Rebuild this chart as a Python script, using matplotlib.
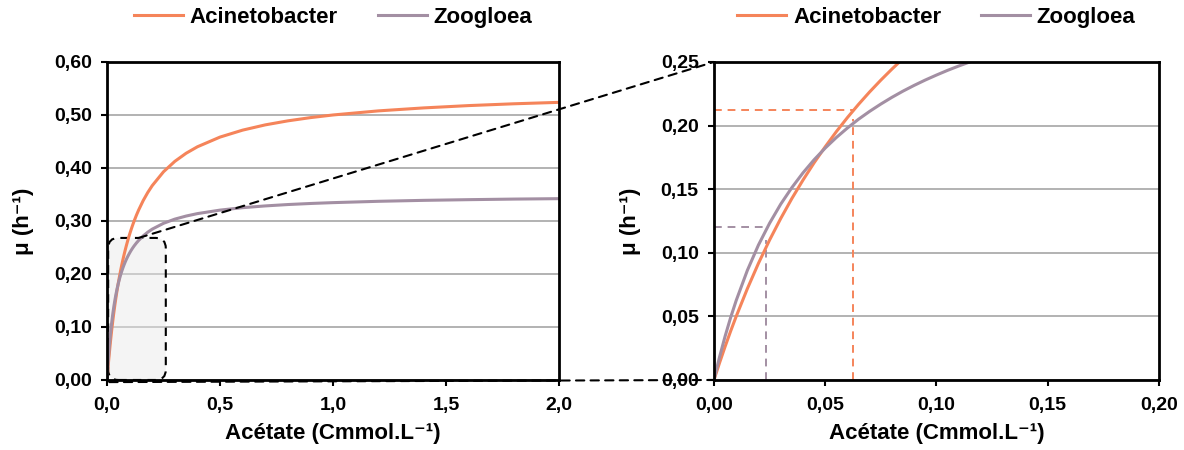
import matplotlib
matplotlib.use('Agg')
import matplotlib.pyplot as plt
from matplotlib.patches import FancyBboxPatch, ConnectionPatch

plt.rcParams['font.family'] = ['Liberation Sans', 'DejaVu Sans']
plt.rcParams['font.weight'] = 'bold'
plt.rcParams['axes.labelweight'] = 'bold'

# values (acetate in Cmmol/L, mu in 1/h)
acetate = [0, 0.0025, 0.005, 0.0075, 0.01, 0.015, 0.02, 0.025, 0.03, 0.035,
           0.04, 0.045, 0.05, 0.055, 0.06, 0.065, 0.07, 0.075, 0.08, 0.085,
           0.09, 0.095, 0.10, 0.105, 0.11, 0.115, 0.12, 0.13, 0.14, 0.16,
           0.18, 0.20, 0.25, 0.30, 0.35, 0.40, 0.50, 0.60, 0.70, 0.80,
           0.90, 1.0, 1.2, 1.4, 1.6, 1.8, 2.0]
mu_acinetobacter = [0, 0.0134, 0.0262, 0.0384, 0.0500, 0.0717, 0.0917, 0.1100, 0.1269, 0.1426,
                    0.1571, 0.1707, 0.1833, 0.1952, 0.2063, 0.2167, 0.2265, 0.2357, 0.2444, 0.2527,
                    0.2605, 0.2680, 0.2750, 0.2817, 0.2881, 0.2942, 0.3000, 0.3109, 0.3208, 0.3385,
                    0.3536, 0.3667, 0.3929, 0.4125, 0.4278, 0.4400, 0.4583, 0.4714, 0.4813, 0.4889,
                    0.4950, 0.5000, 0.5077, 0.5133, 0.5177, 0.5211, 0.5238]
mu_zoogloea = [0, 0.0180, 0.0343, 0.0491, 0.0625, 0.0861, 0.1061, 0.1232, 0.1382, 0.1512,
               0.1628, 0.1731, 0.1823, 0.1906, 0.1981, 0.2050, 0.2112, 0.2169, 0.2222, 0.2271,
               0.2316, 0.2358, 0.2397, 0.2434, 0.2468, 0.2500, 0.2530, 0.2585, 0.2634, 0.2718,
               0.2788, 0.2846, 0.2956, 0.3035, 0.3093, 0.3139, 0.3205, 0.3251, 0.3284, 0.3310,
               0.3330, 0.3346, 0.3371, 0.3389, 0.3402, 0.3413, 0.3421]

# reference marks in the zoomed panel
acin_ref_s, acin_ref_h, acin_ref_v = 0.0624, 0.212, 0.205
zoog_ref_s, zoog_ref_h, zoog_ref_v = 0.0234, 0.120, 0.110

# zoom window drawn on the left panel
box_s = (0.005, 0.26)
box_mu = (0.0, 0.268)

full_xticks = [0, 0.5, 1.0, 1.5, 2.0]
full_xlabels = ['0,0', '0,5', '1,0', '1,5', '2,0']
full_yticks = [0, 0.1, 0.2, 0.3, 0.4, 0.5, 0.6]
full_ylabels = ['0,00', '0,10', '0,20', '0,30', '0,40', '0,50', '0,60']
zoom_xticks = [0, 0.05, 0.10, 0.15, 0.20]
zoom_xlabels = ['0,00', '0,05', '0,10', '0,15', '0,20']
zoom_yticks = [0, 0.05, 0.10, 0.15, 0.20, 0.25]
zoom_ylabels = ['0,00', '0,05', '0,10', '0,15', '0,20', '0,25']

orange = '#F5845A'
purple = '#A38FA3'

fig = plt.figure(figsize=(11.84, 4.5), dpi=100)
ax1 = fig.add_axes([0.0904, 0.1556, 0.3818, 0.7067])
ax2 = fig.add_axes([0.603, 0.1556, 0.3758, 0.7067])


def style(ax, xt, xl, yt, yl):
    ax.set_xticks(xt)
    ax.set_xticklabels(xl)
    ax.set_yticks(yt)
    ax.set_yticklabels(yl)
    ax.set_xlim(xt[0], xt[-1])
    ax.set_ylim(yt[0], yt[-1])
    ax.grid(axis='y', color='#A6A6A6', lw=1.2, zorder=0)
    ax.set_axisbelow(True)
    for s in ax.spines.values():
        s.set_linewidth(2.0)
        s.set_color('black')
        s.set_zorder(5)
    ax.tick_params(direction='out', length=4, width=1.5, labelsize=14)
    ax.tick_params(axis='x', pad=8)
    ax.tick_params(axis='y', pad=7)
    ax.set_xlabel('Acétate (Cmmol.L⁻¹)', fontsize=16, labelpad=7)
    ax.set_ylabel('μ (h⁻¹)', fontsize=16, labelpad=14)


for ax in (ax1, ax2):
    ax.plot(acetate, mu_acinetobacter, color=orange, lw=2.2, label='Acinetobacter', zorder=3)
    ax.plot(acetate, mu_zoogloea, color=purple, lw=2.2, label='Zoogloea', zorder=3)
    ax.legend(loc='center', bbox_to_anchor=(0.5, 1.14), ncol=2, frameon=False,
              fontsize=16, handlelength=2.2, handletextpad=0.3, columnspacing=1.8)

style(ax1, full_xticks, full_xlabels, full_yticks, full_ylabels)
style(ax2, zoom_xticks, zoom_xlabels, zoom_yticks, zoom_ylabels)

# shaded zoom box
box = FancyBboxPatch((box_s[0], box_mu[0]), box_s[1] - box_s[0], box_mu[1] - box_mu[0],
                     boxstyle='round,pad=0,rounding_size=0.045', mutation_aspect=0.43,
                     facecolor='#E8E8E8', alpha=0.45, edgecolor='none', zorder=1)
ax1.add_patch(box)
box_edge = FancyBboxPatch((box_s[0], box_mu[0]), box_s[1] - box_s[0], box_mu[1] - box_mu[0],
                          boxstyle='round,pad=0,rounding_size=0.045', mutation_aspect=0.43,
                          facecolor='none', edgecolor='black', lw=1.5,
                          linestyle=(0, (4, 3)), zorder=2)
ax1.add_patch(box_edge)

# dashed guides in the zoomed panel
dash = (0, (4, 3))
ax2.plot([0, acin_ref_s], [acin_ref_h, acin_ref_h], color=orange, lw=1.4, ls=dash, zorder=2)
ax2.plot([acin_ref_s, acin_ref_s], [0, acin_ref_v], color=orange, lw=1.4, ls=dash, zorder=2)
ax2.plot([0, zoog_ref_s], [zoog_ref_h, zoog_ref_h], color=purple, lw=1.4, ls=dash, zorder=2)
ax2.plot([zoog_ref_s, zoog_ref_s], [0, zoog_ref_v], color=purple, lw=1.4, ls=dash, zorder=2)

# connector lines between panels
con_top = ConnectionPatch(xyA=(0.14, box_mu[1]), coordsA=ax1.transData,
                          xyB=(0, 0.25), coordsB=ax2.transData,
                          color='black', lw=1.5, linestyle=dash)
fig.add_artist(con_top)
con_bot = ConnectionPatch(xyA=(0.01, -0.004), coordsA=ax1.transData,
                          xyB=(0, 0), coordsB=ax2.transData,
                          color='black', lw=1.5, linestyle=dash)
fig.add_artist(con_bot)

fig.savefig('out.png', dpi=100)
